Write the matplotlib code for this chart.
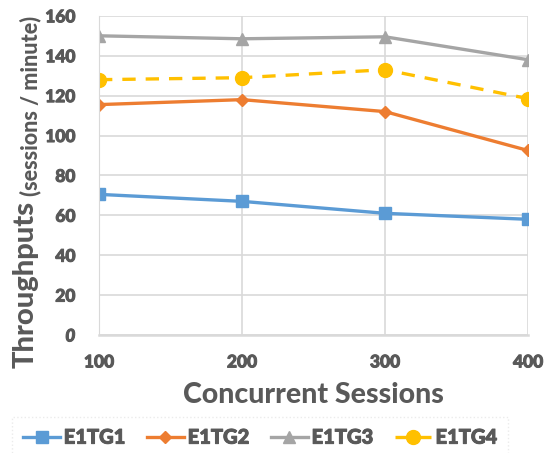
import matplotlib.pyplot as plt
import matplotlib.patheffects as pe

sessions = [100, 200, 300, 400]
e1tg1 = [70.5, 67, 61, 58]
e1tg2 = [115.5, 118, 112, 92.5]
e1tg3 = [150, 148.5, 149.5, 138]
e1tg4 = [128, 129, 133, 118.5]
yticks = [0, 20, 40, 60, 80, 100, 120, 140, 160]

plt.rcParams['font.family'] = ['Lato', 'DejaVu Sans']
plt.rcParams['font.weight'] = 'bold'
grey = '#595959'
thick = [pe.withStroke(linewidth=0.7, foreground=grey)]

fig = plt.figure(figsize=(5.5, 4.53), dpi=100)
ax = fig.add_axes([0.18, 0.2605, 0.78, 0.7045])

ax.plot(sessions, e1tg1, color='#5B9BD5', lw=2.4, marker='s', ms=9, label='E1TG1')
ax.plot(sessions, e1tg2, color='#ED7D31', lw=2.4, marker='D', ms=6.5, label='E1TG2')
ax.plot(sessions, e1tg3, color='#A5A5A5', lw=2.4, marker='^', ms=9, label='E1TG3')
ax.plot(sessions, e1tg4, color='#FFC000', lw=2.4, ls=(0, (4, 3)), marker='o', ms=10, label='E1TG4')

ax.set_xlim(100, 400)
ax.set_ylim(0, 160)
ax.set_xticks(sessions)
ax.set_yticks(yticks)
ax.grid(True, color='#D9D9D9', lw=1.2)
ax.set_axisbelow(True)
for s in ['top', 'right']:
    ax.spines[s].set_visible(False)
ax.spines['left'].set_color('#D9D9D9')
ax.spines['bottom'].set_color('#D9D9D9')
ax.spines['bottom'].set_linewidth(1.8)
ax.tick_params(axis='y', length=0, pad=17, labelsize=12.5, labelcolor=grey)
ax.tick_params(axis='x', length=0, pad=14, labelsize=12.5, labelcolor=grey)
plt.setp(ax.get_xticklabels() + ax.get_yticklabels(), fontweight='black', path_effects=thick)
ax.get_yticklabels()[0].set_fontstyle('italic')

ax.set_xlabel('Concurrent Sessions', fontsize=20.5, fontweight='black', color=grey, labelpad=8)

# y label in two sizes
t1 = fig.text(26 / 550, 1 - 368 / 453, 'Throughputs', rotation=90, rotation_mode='anchor',
              ha='left', va='center', fontsize=21, fontweight='black', color=grey)
fig.canvas.draw()
bb = t1.get_window_extent()
fig.text(30 / 550, (bb.y1 + 5) / fig.bbox.height, '(sessions / minute)', rotation=90,
         rotation_mode='anchor', ha='left', va='center', fontsize=15.5, fontweight='black', color=grey)

leg = fig.legend(loc='center', bbox_to_anchor=(0.473, 0.035), ncol=4, frameon=True,
                 prop=dict(size=14.5, weight='black'), handlelength=1.8, columnspacing=1.1,
                 handletextpad=0.2, borderpad=0.55, borderaxespad=0, fancybox=False)
for t in leg.get_texts():
    t.set_color(grey)
    t.set_path_effects(thick)
leg.get_frame().set_edgecolor('#E6E6E6')
leg.get_frame().set_linestyle(':')

fig.savefig('out.png', dpi=100)
